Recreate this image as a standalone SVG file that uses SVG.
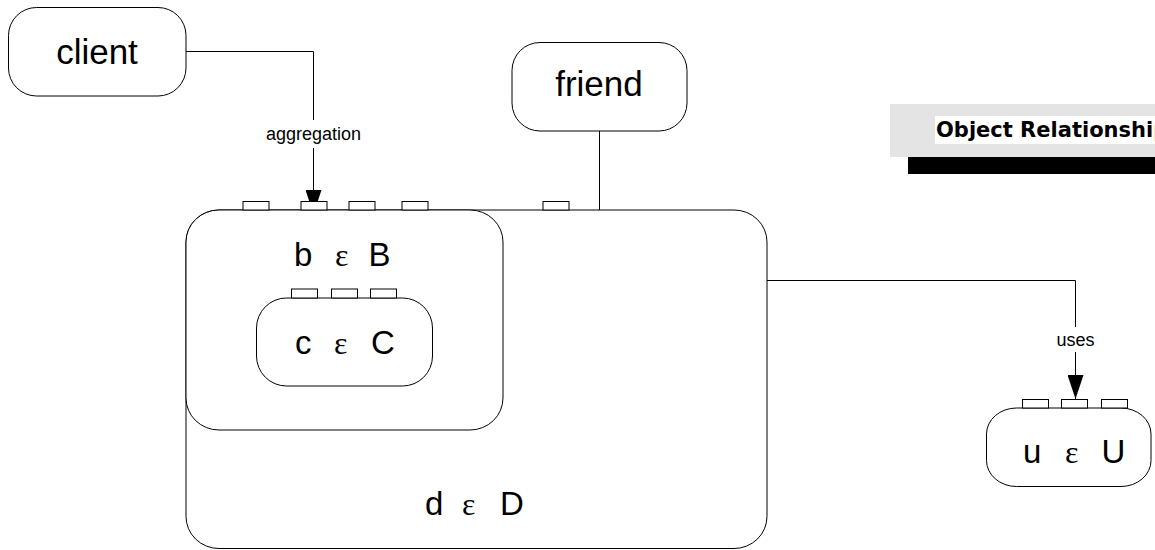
<svg xmlns="http://www.w3.org/2000/svg" width="1155" height="550" viewBox="0 0 1155 550">
  <style>
    .box { fill: #ffffff; stroke: #000000; stroke-width: 1; }
    .port { fill: #ffffff; stroke: #000000; stroke-width: 1; }
    .wire { fill: none; stroke: #000000; stroke-width: 1; }
    .big { font-family: "Liberation Sans", Arial, sans-serif; font-size: 35px; fill: #000000; }
    .sym { font-family: "Liberation Sans", Arial, sans-serif; font-size: 33px; fill: #000000; }
    .eps { font-family: "Liberation Serif", "Times New Roman", serif; font-size: 32px; fill: #000000; }
    .lbl { font-family: "Liberation Sans", Arial, sans-serif; font-size: 18px; fill: #000000; }
    .title { font-family: "DejaVu Sans", Verdana, sans-serif; font-size: 21px; font-weight: bold; fill: #000000; }
  </style>
  <defs>
    <!-- filled triangle, 24 long and 16 wide, tip on the path end -->
    <marker id="arrow" markerUnits="userSpaceOnUse" markerWidth="24" markerHeight="16" viewBox="0 0 24 16" refX="24" refY="8" orient="auto">
      <path d="M0,0 L24,8 L0,16 Z" fill="#000000"/>
    </marker>
  </defs>

  <!-- title banner -->
  <g id="title">
    <rect x="890" y="104" width="265" height="53" fill="#e4e4e4"/>
    <rect x="908" y="157" width="247" height="17" fill="#000000"/>
    <rect x="935" y="116" width="220" height="28" fill="#ffffff"/>
    <text class="title" x="936" y="137">Object Relationship</text>
  </g>

  <!-- connectors -->
  <g id="connectors">
    <path class="wire" d="M186,51.5 H313.5 V214" marker-end="url(#arrow)"/>
    <path class="wire" d="M599.5,131 V210"/>
    <path class="wire" d="M767,280.5 H1075.5 V399" marker-end="url(#arrow)"/>
    <rect x="262" y="120" width="103" height="28" fill="#ffffff"/>
    <text class="lbl" x="313.5" y="140" text-anchor="middle">aggregation</text>
    <rect x="1053" y="327" width="45" height="25" fill="#ffffff"/>
    <text class="lbl" x="1075.5" y="346" text-anchor="middle">uses</text>
  </g>

  <!-- d ε D -->
  <g id="node-d">
    <rect class="box" x="186" y="210" width="581" height="338.5" rx="33" ry="32"/>
    <rect class="port" x="543" y="201.5" width="26" height="8.5"/>
    <text x="0" y="514.5"><tspan class="sym" x="425">d</tspan><tspan class="eps" x="462">ε</tspan><tspan class="sym" x="500">D</tspan></text>
  </g>

  <!-- b ε B -->
  <g id="node-b">
    <rect class="box" x="186" y="210" width="317" height="220" rx="33" ry="32"/>
    <rect class="port" x="243" y="201.5" width="26" height="8.5"/>
    <rect class="port" x="301" y="201.5" width="26" height="8.5"/>
    <rect class="port" x="349" y="201.5" width="26" height="8.5"/>
    <rect class="port" x="402" y="201.5" width="26" height="8.5"/>
    <text x="0" y="265.5"><tspan class="sym" x="294">b</tspan><tspan class="eps" x="335">ε</tspan><tspan class="sym" x="368.5">B</tspan></text>
  </g>

  <!-- c ε C -->
  <g id="node-c">
    <rect class="box" x="256.5" y="298" width="176" height="88" rx="30" ry="30"/>
    <rect class="port" x="291.5" y="289" width="26" height="9"/>
    <rect class="port" x="331.5" y="289" width="26" height="9"/>
    <rect class="port" x="370.5" y="289" width="26" height="9"/>
    <text x="0" y="353.5"><tspan class="sym" x="295">c</tspan><tspan class="eps" x="334">ε</tspan><tspan class="sym" x="371">C</tspan></text>
  </g>

  <!-- u ε U -->
  <g id="node-u">
    <rect class="box" x="986.5" y="408" width="164.5" height="78.5" rx="30" ry="26"/>
    <rect class="port" x="1022.5" y="399.5" width="26" height="8.5"/>
    <rect class="port" x="1061.5" y="399.5" width="26" height="8.5"/>
    <rect class="port" x="1101.5" y="399.5" width="26" height="8.5"/>
    <text x="0" y="463"><tspan class="sym" x="1023">u</tspan><tspan class="eps" x="1065">ε</tspan><tspan class="sym" x="1101.5">U</tspan></text>
  </g>

  <!-- client -->
  <g id="node-client">
    <rect class="box" x="8.5" y="7.5" width="177.5" height="88.5" rx="28" ry="28"/>
    <text class="big" x="97" y="63.5" text-anchor="middle">client</text>
  </g>

  <!-- friend -->
  <g id="node-friend">
    <rect class="box" x="512" y="42.5" width="175" height="88.5" rx="28" ry="28"/>
    <text class="big" x="599" y="95.5" text-anchor="middle">friend</text>
  </g>
</svg>
